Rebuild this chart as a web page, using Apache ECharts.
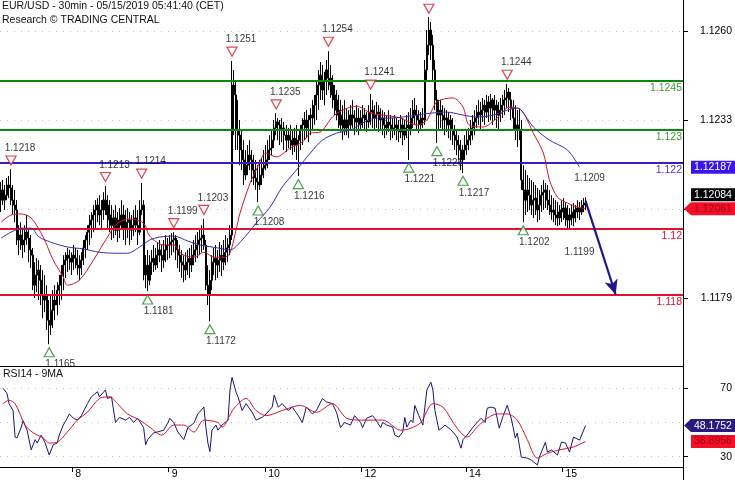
<!DOCTYPE html>
<html><head><meta charset="utf-8">
<script src="https://cdn.jsdelivr.net/npm/echarts@6/dist/echarts.min.js"></script>
<style>html,body{margin:0;padding:0;background:#fff}#c{width:735px;height:480px}</style>
</head><body><div id="c"></div>
<script>
const FONT = '"Liberation Sans", Arial, Helvetica, sans-serif';

// ---------- data ----------
const slotCount = 340;
const dayLabels = ['8','9','10','12','14','15'];
const dayStartIdx = [36,84,132,180,232,280];
const priceTicks = [1.1260,1.1233,1.1206,1.1179];
const priceLabels = [1.1260,1.1233,1.1179];
const priceGridLines = [1.1260,1.1233,1.1206];
const rsiTicks = [70,30];
const rsiGridLines = [70,50,30];
const levelValues = [1.1245,1.123,1.122,1.12,1.118];
const levelTexts = ['1.1245','1.123','1.122','1.12','1.118'];

const opens = [
1.12087,1.12118,1.12087,1.12102,1.12133,1.12124,1.12087,1.12072,1.12057,1.11966,
1.11981,1.11951,1.11966,1.11990,1.11972,1.11936,1.11920,1.11829,1.11860,1.11875,
1.11844,1.11799,1.11784,1.11799,1.11723,1.11708,1.11753,1.11784,1.11769,1.11814,
1.11829,1.11860,1.11890,1.11905,1.11920,1.11911,1.11899,1.11920,1.11911,1.11890,
1.11881,1.11905,1.11942,1.11966,1.11990,1.12011,1.12027,1.12042,1.12057,1.12072,
1.12042,1.12057,1.12087,1.12072,1.12042,1.12027,1.12011,1.12033,1.11996,1.12011,
1.12027,1.12042,1.12002,1.12020,1.12027,1.11996,1.12011,1.12033,1.12011,1.11990,
1.12057,1.12072,1.11860,1.11890,1.11844,1.11899,1.11911,1.11890,1.11920,1.11936,
1.11920,1.11905,1.11936,1.11951,1.11951,1.11960,1.11966,1.11972,1.11936,1.11920,
1.11899,1.11890,1.11875,1.11899,1.11911,1.11890,1.11920,1.11936,1.11951,1.11966,
1.11972,1.11981,1.11951,1.11829,1.11799,1.11844,1.11899,1.11911,1.11890,1.11905,
1.11920,1.11899,1.11929,1.11942,1.11951,1.11981,1.12436,1.12406,1.12300,1.12284,
1.12239,1.12209,1.12163,1.12193,1.12224,1.12209,1.12178,1.12154,1.12142,1.12133,
1.12163,1.12184,1.12193,1.12209,1.12239,1.12245,1.12269,1.12306,1.12324,1.12315,
1.12300,1.12306,1.12284,1.12269,1.12284,1.12269,1.12254,1.12275,1.12254,1.12269,
1.12300,1.12315,1.12330,1.12306,1.12330,1.12345,1.12336,1.12375,1.12406,1.12436,
1.12466,1.12421,1.12451,1.12482,1.12457,1.12436,1.12406,1.12391,1.12360,1.12345,
1.12315,1.12330,1.12306,1.12330,1.12315,1.12345,1.12336,1.12324,1.12336,1.12315,
1.12336,1.12345,1.12330,1.12324,1.12354,1.12360,1.12336,1.12345,1.12354,1.12330,
1.12336,1.12315,1.12306,1.12324,1.12315,1.12300,1.12306,1.12315,1.12300,1.12294,
1.12315,1.12284,1.12306,1.12315,1.12300,1.12336,1.12360,1.12345,1.12330,1.12315,
1.12336,1.12330,1.12482,1.12557,1.12603,1.12557,1.12482,1.12391,1.12345,1.12360,
1.12345,1.12330,1.12336,1.12315,1.12330,1.12300,1.12284,1.12269,1.12254,1.12239,
1.12209,1.12239,1.12254,1.12269,1.12284,1.12306,1.12324,1.12336,1.12354,1.12345,
1.12360,1.12375,1.12354,1.12385,1.12366,1.12391,1.12360,1.12375,1.12345,1.12360,
1.12375,1.12391,1.12397,1.12415,1.12391,1.12366,1.12336,1.12300,1.12315,1.12300,
1.12148,1.12118,1.12087,1.12118,1.12102,1.12072,1.12087,1.12093,1.12057,1.12072,
1.12102,1.12111,1.12118,1.12087,1.12072,1.12051,1.12057,1.12042,1.12033,1.12051,
1.12057,1.12063,1.12033,1.12027,1.12042,1.12033,1.12051,1.12057,1.12063,1.12051,
1.12072,1.12078];

const closes = [
1.12118,1.12087,1.12102,1.12133,1.12124,1.12087,1.12072,1.12057,1.11966,1.11981,
1.11951,1.11966,1.11990,1.11972,1.11936,1.11920,1.11829,1.11860,1.11875,1.11844,
1.11799,1.11784,1.11799,1.11723,1.11708,1.11753,1.11784,1.11769,1.11814,1.11829,
1.11860,1.11890,1.11905,1.11920,1.11911,1.11899,1.11920,1.11911,1.11890,1.11881,
1.11905,1.11942,1.11966,1.11990,1.12011,1.12027,1.12042,1.12057,1.12072,1.12042,
1.12057,1.12087,1.12072,1.12042,1.12027,1.12011,1.12033,1.11996,1.12011,1.12027,
1.12042,1.12002,1.12020,1.12027,1.11996,1.12011,1.12033,1.12011,1.11990,1.12057,
1.12072,1.11860,1.11890,1.11844,1.11899,1.11911,1.11890,1.11920,1.11936,1.11920,
1.11905,1.11936,1.11951,1.11951,1.11960,1.11966,1.11972,1.11936,1.11920,1.11899,
1.11890,1.11875,1.11899,1.11911,1.11890,1.11920,1.11936,1.11951,1.11966,1.11972,
1.11981,1.11951,1.11829,1.11799,1.11844,1.11899,1.11911,1.11890,1.11905,1.11920,
1.11899,1.11929,1.11942,1.11951,1.11981,1.12436,1.12406,1.12300,1.12284,1.12239,
1.12209,1.12163,1.12193,1.12224,1.12209,1.12178,1.12154,1.12142,1.12133,1.12163,
1.12184,1.12193,1.12209,1.12239,1.12245,1.12269,1.12306,1.12324,1.12315,1.12300,
1.12306,1.12284,1.12269,1.12284,1.12269,1.12254,1.12275,1.12254,1.12269,1.12300,
1.12315,1.12330,1.12306,1.12330,1.12345,1.12336,1.12375,1.12406,1.12436,1.12466,
1.12421,1.12451,1.12482,1.12457,1.12436,1.12406,1.12391,1.12360,1.12345,1.12315,
1.12330,1.12306,1.12330,1.12315,1.12345,1.12336,1.12324,1.12336,1.12315,1.12336,
1.12345,1.12330,1.12324,1.12354,1.12360,1.12336,1.12345,1.12354,1.12330,1.12336,
1.12315,1.12306,1.12324,1.12315,1.12300,1.12306,1.12315,1.12300,1.12294,1.12315,
1.12284,1.12306,1.12315,1.12300,1.12336,1.12360,1.12345,1.12330,1.12315,1.12336,
1.12330,1.12482,1.12557,1.12603,1.12557,1.12482,1.12391,1.12345,1.12360,1.12345,
1.12330,1.12336,1.12315,1.12330,1.12300,1.12284,1.12269,1.12254,1.12239,1.12209,
1.12239,1.12254,1.12269,1.12284,1.12306,1.12324,1.12336,1.12354,1.12345,1.12360,
1.12375,1.12354,1.12385,1.12366,1.12391,1.12360,1.12375,1.12345,1.12360,1.12375,
1.12391,1.12397,1.12415,1.12391,1.12366,1.12336,1.12300,1.12315,1.12300,1.12148,
1.12118,1.12087,1.12118,1.12102,1.12072,1.12087,1.12093,1.12057,1.12072,1.12102,
1.12111,1.12118,1.12087,1.12072,1.12051,1.12057,1.12042,1.12033,1.12051,1.12057,
1.12063,1.12033,1.12027,1.12042,1.12033,1.12051,1.12057,1.12063,1.12051,1.12072,
1.12078,1.12084];

const highs = [
1.12142,1.12148,1.12133,1.12154,1.12160,1.12181,1.12133,1.12118,1.12087,1.12011,
1.12020,1.12002,1.12011,1.12042,1.11996,1.11981,1.11942,1.11899,1.11911,1.11905,
1.11890,1.11875,1.11860,1.11829,1.11784,1.11799,1.11814,1.11829,1.11838,1.11860,
1.11890,1.11920,1.11929,1.11942,1.11936,1.11929,1.11951,1.11942,1.11936,1.11920,
1.11929,1.11966,1.11981,1.12011,1.12042,1.12051,1.12072,1.12087,1.12093,1.12102,
1.12087,1.12111,1.12130,1.12102,1.12087,1.12072,1.12057,1.12072,1.12051,1.12063,
1.12087,1.12072,1.12057,1.12063,1.12051,1.12042,1.12057,1.12072,1.12057,1.12087,
1.12139,1.12087,1.11920,1.11936,1.11920,1.11936,1.11951,1.11942,1.11960,1.11966,
1.11951,1.11966,1.11981,1.11972,1.11981,1.11987,1.11990,1.11981,1.11966,1.11951,
1.11936,1.11920,1.11929,1.11936,1.11942,1.11951,1.11966,1.11981,1.11990,1.12002,
1.12011,1.12030,1.11966,1.11890,1.11875,1.11920,1.11942,1.11951,1.11936,1.11960,
1.11951,1.11966,1.11981,1.11972,1.12011,1.12509,1.12482,1.12451,1.12391,1.12330,
1.12300,1.12269,1.12239,1.12254,1.12269,1.12239,1.12224,1.12209,1.12193,1.12209,
1.12215,1.12239,1.12254,1.12269,1.12284,1.12300,1.12330,1.12351,1.12336,1.12330,
1.12336,1.12324,1.12315,1.12306,1.12315,1.12300,1.12306,1.12315,1.12284,1.12315,
1.12336,1.12354,1.12360,1.12345,1.12366,1.12391,1.12406,1.12451,1.12482,1.12506,
1.12497,1.12476,1.12512,1.12539,1.12497,1.12466,1.12436,1.12421,1.12406,1.12391,
1.12375,1.12391,1.12366,1.12360,1.12375,1.12391,1.12360,1.12375,1.12366,1.12360,
1.12375,1.12366,1.12354,1.12375,1.12409,1.12391,1.12375,1.12385,1.12375,1.12366,
1.12360,1.12354,1.12345,1.12360,1.12345,1.12336,1.12345,1.12336,1.12330,1.12345,
1.12336,1.12330,1.12345,1.12354,1.12366,1.12391,1.12397,1.12375,1.12360,1.12354,
1.12366,1.12512,1.12603,1.12642,1.12627,1.12588,1.12512,1.12421,1.12391,1.12391,
1.12375,1.12366,1.12360,1.12354,1.12345,1.12336,1.12315,1.12300,1.12284,1.12269,
1.12254,1.12284,1.12300,1.12306,1.12330,1.12345,1.12360,1.12375,1.12391,1.12385,
1.12397,1.12391,1.12406,1.12403,1.12409,1.12397,1.12406,1.12391,1.12385,1.12397,
1.12406,1.12421,1.12439,1.12427,1.12415,1.12391,1.12375,1.12360,1.12366,1.12330,
1.12193,1.12178,1.12163,1.12154,1.12148,1.12142,1.12133,1.12124,1.12118,1.12133,
1.12148,1.12139,1.12133,1.12118,1.12102,1.12093,1.12087,1.12081,1.12072,1.12087,
1.12093,1.12081,1.12072,1.12063,1.12072,1.12078,1.12072,1.12087,1.12081,1.12087,
1.12093,1.12096];

const lows = [
1.12051,1.12072,1.12057,1.12087,1.12093,1.12072,1.12042,1.12020,1.11951,1.11920,
1.11936,1.11911,1.11929,1.11951,1.11899,1.11881,1.11814,1.11790,1.11808,1.11784,
1.11769,1.11729,1.11747,1.11693,1.11650,1.11678,1.11699,1.11723,1.11738,1.11769,
1.11784,1.11814,1.11851,1.11869,1.11875,1.11860,1.11875,1.11881,1.11860,1.11844,
1.11860,1.11890,1.11911,1.11936,1.11951,1.11972,1.11990,1.12002,1.12020,1.12011,
1.11996,1.12027,1.12042,1.12002,1.11990,1.11966,1.11972,1.11981,1.11960,1.11972,
1.11996,1.11966,1.11951,1.11972,1.11951,1.11966,1.11978,1.11990,1.11951,1.11981,
1.12042,1.11844,1.11820,1.11811,1.11829,1.11860,1.11869,1.11875,1.11881,1.11899,
1.11869,1.11881,1.11899,1.11905,1.11911,1.11920,1.11929,1.11905,1.11881,1.11869,
1.11851,1.11838,1.11844,1.11860,1.11851,1.11869,1.11890,1.11899,1.11911,1.11920,
1.11929,1.11936,1.11814,1.11769,1.11720,1.11814,1.11860,1.11844,1.11851,1.11869,
1.11857,1.11875,1.11890,1.11899,1.11920,1.11966,1.12284,1.12239,1.12239,1.12193,
1.12178,1.12133,1.12148,1.12163,1.12178,1.12142,1.12133,1.12118,1.12081,1.12118,
1.12133,1.12154,1.12178,1.12184,1.12209,1.12224,1.12245,1.12284,1.12269,1.12254,
1.12263,1.12239,1.12233,1.12245,1.12239,1.12224,1.12233,1.12209,1.12160,1.12239,
1.12254,1.12269,1.12275,1.12263,1.12284,1.12300,1.12315,1.12330,1.12360,1.12391,
1.12391,1.12375,1.12406,1.12421,1.12397,1.12366,1.12345,1.12330,1.12306,1.12294,
1.12269,1.12284,1.12284,1.12275,1.12300,1.12306,1.12284,1.12294,1.12284,1.12300,
1.12306,1.12300,1.12294,1.12306,1.12315,1.12306,1.12300,1.12306,1.12294,1.12300,
1.12284,1.12275,1.12284,1.12294,1.12269,1.12275,1.12284,1.12269,1.12263,1.12275,
1.12254,1.12269,1.12275,1.12209,1.12284,1.12306,1.12315,1.12300,1.12290,1.12300,
1.12306,1.12315,1.12451,1.12527,1.12512,1.12451,1.12360,1.12260,1.12300,1.12306,
1.12300,1.12284,1.12294,1.12275,1.12269,1.12254,1.12239,1.12224,1.12209,1.12178,
1.12169,1.12209,1.12224,1.12239,1.12254,1.12269,1.12284,1.12306,1.12315,1.12300,
1.12324,1.12315,1.12336,1.12324,1.12330,1.12315,1.12330,1.12306,1.12300,1.12324,
1.12336,1.12345,1.12366,1.12354,1.12330,1.12300,1.12269,1.12248,1.12269,1.12118,
1.12020,1.12042,1.12051,1.12057,1.12042,1.12033,1.12042,1.12020,1.12027,1.12051,
1.12057,1.12063,1.12057,1.12042,1.12027,1.12020,1.12011,1.12008,1.12011,1.12020,
1.12027,1.12008,1.12002,1.12002,1.12011,1.12008,1.12020,1.12033,1.12027,1.12042,
1.12051,1.12057];

const fastMA = [[0,1.12020],[5,1.12042],[10,1.12045],[15,1.12033],[21,1.11975],[26,1.11905],[31,1.11854],[33,1.11829],[39,1.11844],[46,1.11905],[53,1.11975],[58,1.12017],[64,1.12030],[71,1.12017],[74,1.11978],[81,1.11951],[86,1.11951],[90,1.11923],[96,1.11914],[101,1.11929],[106,1.11914],[111,1.11914],[114,1.11926],[119,1.12048],[124,1.12139],[127,1.12178],[132,1.12230],[137,1.12218],[144,1.12245],[150,1.12263],[154,1.12290],[159,1.12294],[165,1.12339],[170,1.12360],[177,1.12372],[184,1.12351],[190,1.12345],[199,1.12336],[207,1.12315],[212,1.12330],[217,1.12385],[225,1.12397],[230,1.12369],[233,1.12315],[240,1.12309],[247,1.12336],[253,1.12369],[259,1.12360],[265,1.12290],[270,1.12230],[273,1.12148],[277,1.12096],[282,1.12078],[287,1.12066],[291,1.12061]];

const slowMA = [[0,1.11972],[5,1.11990],[10,1.12002],[15,1.12002],[19,1.11975],[26,1.11957],[33,1.11945],[41,1.11939],[49,1.11929],[58,1.11926],[63,1.11926],[69,1.11945],[74,1.11966],[79,1.11975],[86,1.11978],[93,1.11963],[99,1.11951],[108,1.11942],[114,1.11936],[120,1.11966],[127,1.12017],[134,1.12066],[140,1.12127],[147,1.12178],[154,1.12230],[160,1.12269],[167,1.12290],[174,1.12300],[180,1.12321],[187,1.12336],[194,1.12336],[200,1.12339],[207,1.12345],[214,1.12351],[222,1.12354],[230,1.12345],[237,1.12339],[245,1.12345],[252,1.12360],[257,1.12366],[259,1.12360],[265,1.12309],[273,1.12269],[282,1.12239],[288,1.12187]];

const highMarkIdx = [5,52,70,86,101,115,137,163,184,213,252];
const highMarkVal = [1.1218,1.1213,1.1214,1.1199,1.1203,1.1251,1.1235,1.1254,1.1241,1.1264,1.1244];
const highMarkText = ['1.1218','1.1213','1.1214','1.1199','1.1203','1.1251','1.1235','1.1254','1.1241','','1.1244'];
const lowMarkIdx = [24,73,104,128,148,203,217,230,260];
const lowMarkVal = [1.1165,1.1181,1.1172,1.1208,1.1216,1.1221,1.1226,1.1217,1.1202];
const lowMarkText = ['1.1165','1.1181','1.1172','1.1208','1.1216','1.1221','1.1226','1.1217','1.1202'];
const projIdx = [293,288];
const projVal = [1.1209,1.1199];
const projText = ['1.1209','1.1199'];
const arrowFrom = [291,1.12084];
const arrowTo = [306,1.118];

const rsi = [[1,70],[3,67],[4,61],[6,57],[7,41.5],[8,41],[10,47],[11,51],[13,45.5],[15,34],[17,40],[18,38],[20,42.6],[22,38],[24,31],[26,37],[28,38],[29,42.6],[31,48.5],[33,52.5],[34,55],[36,52.5],[38,51.4],[40,54],[43,61],[45,65],[48,68],[49,65],[52,69],[53,64],[55,65],[57,50],[59,53],[62,51.4],[64,53],[66,50],[68,52.5],[71,47],[72,37],[73,40],[76,44],[78,44.5],[81,45.5],[83,49.6],[84,52.5],[86,50],[88,44.5],[91,40],[93,47],[96,49.6],[98,55],[101,59],[102,47],[103,38],[104,33],[105,45.5],[107,48.5],[108,45.5],[110,48.5],[113,51.4],[114,69],[115,76.4],[117,67.7],[118,65],[120,57],[122,61],[125,56],[127,51.4],[130,53],[132,55],[135,59],[136,66],[138,59],[140,61],[143,57],[145,59],[148,54],[150,50],[152,59],[155,55],[157,57],[160,64],[162,62],[165,61],[167,56],[169,47],[171,50],[174,48.5],[176,54],[179,50],[180,47],[182,52.5],[185,54],[186,52.5],[189,47],[190,50],[192,48.5],[195,47.3],[196,42.6],[198,41.5],[200,44.4],[201,53],[202,47.3],[204,51.4],[205,50],[206,60],[208,54],[210,48.5],[211,59],[212,69],[214,73.5],[215,69],[216,57],[218,45.5],[220,47.3],[221,48.5],[223,46.7],[225,44.4],[227,41.5],[229,35],[230,40],[232,42.6],[235,47.3],[237,50],[239,52.5],[241,50],[242,58.3],[244,59],[246,58.3],[248,46.7],[250,54],[252,60],[254,52.5],[256,41],[257,43.8],[259,29.8],[262,29.2],[264,28],[267,25.2],[268,29.8],[271,38.5],[272,32.7],[274,34],[277,31],[279,38.5],[281,38],[283,32.7],[285,41.5],[288,39.7],[291,48.1752]];

const rsiMA = [[1,61],[4,63],[7,61],[12,48.5],[16,44],[21,41],[24,38],[28,38.5],[33,44.4],[38,51.4],[43,56],[49,64],[54,65],[58,61],[63,55],[69,51.4],[74,47.3],[80,42.6],[86,48.5],[91,48.5],[96,44.4],[101,51.4],[108,50],[110,47.3],[116,58.3],[122,64],[127,57],[132,54],[140,57],[149,60],[157,56],[165,61],[172,52.5],[179,51.4],[190,51.4],[199,45.5],[204,46.7],[209,50],[215,61],[220,59],[227,46.7],[232,41.5],[237,47.3],[242,52.5],[247,55],[252,55],[257,51.4],[262,40],[267,29.2],[272,32],[278,34],[285,35.7],[291,38.8956]];

const tagSlowMA = 1.12187, tagLast = 1.12084, tagFastMA = 1.12061;
const tagRsi = 48.1752, tagRsiMA = 38.8956;

// ---------- styles ----------
const levelColors = ['#0a8a0a','#0a8a0a','#3a1cc4','#e4102c','#e4102c'];
const levelTextColors = ['#3c9a3c','#3c9a3c','#4a2cd0','#e4102c','#e4102c'];
const RED = '#d4142c', NAVY = '#1c1474', GREEN = '#1e8a1e';

const cats = Array.from({length: slotCount}, (_, i) => String(i));
const isDay = (idx) => dayStartIdx.indexOf(idx) >= 0;
const candles = opens.map((o, i) => [o, closes[i], lows[i], highs[i]]);

const chart = echarts.init(document.getElementById('c'), null, {renderer: 'canvas'});
const txt = {fontFamily: FONT, color: '#111'};

const option = {
  animation: false,
  backgroundColor: '#fff',
  title: [
    {text: 'EUR/USD - 30min - 05/15/2019 05:41:40 (CET)', subtext: 'Research © TRADING CENTRAL',
     left: 2, top: 1, padding: 0, itemGap: 3,
     textStyle: Object.assign({fontSize: 10.5, fontWeight: 'normal'}, txt),
     subtextStyle: Object.assign({fontSize: 10.5}, txt)},
    {text: 'RSI14 - 9MA', left: 3, top: 369, padding: 0,
     textStyle: Object.assign({fontSize: 10.5, fontWeight: 'normal'}, txt)}
  ],
  grid: [
    {left: 0, top: 0, width: 683, height: 366, outerBoundsMode: 'none'},
    {left: 0, top: 366, width: 683, height: 101, outerBoundsMode: 'none'}
  ],
  xAxis: [
    {type: 'category', gridIndex: 0, data: cats, boundaryGap: true,
     axisLine: {lineStyle: {color: '#000', width: 1}}, axisTick: {show: false},
     axisLabel: {show: false}, splitLine: {show: false}},
    {type: 'category', gridIndex: 1, data: cats, boundaryGap: true,
     axisLine: {lineStyle: {color: '#000', width: 1}},
     axisTick: {show: true, interval: isDay, length: 5, lineStyle: {color: '#000'}},
     axisLabel: {interval: isDay, formatter: (v, i) => dayLabels[dayStartIdx.indexOf(i)],
       align: 'left', padding: [0, 0, 0, 2], margin: 2, fontSize: 10.5, color: '#000', fontFamily: FONT},
     splitLine: {show: false}}
  ],
  yAxis: [
    {type: 'value', gridIndex: 0, position: 'right', min: 1.11584, max: 1.12694,
     axisLine: {show: true, lineStyle: {color: '#000'}},
     axisTick: {show: true, length: 5, customValues: priceTicks, lineStyle: {color: '#000'}},
     axisLabel: {customValues: priceLabels, formatter: v => v.toFixed(4), margin: 49, align: 'right',
       fontSize: 10.5, color: '#000', fontFamily: FONT},
     splitLine: {show: false}},
    {type: 'value', gridIndex: 1, position: 'right', min: 24, max: 83,
     axisLine: {show: true, lineStyle: {color: '#000'}},
     axisTick: {show: true, length: 5, customValues: rsiTicks, lineStyle: {color: '#000'}},
     axisLabel: {customValues: rsiTicks, margin: 49, align: 'right',
       fontSize: 10.5, color: '#000', fontFamily: FONT},
     splitLine: {show: false}}
  ],
  series: [
    {type: 'candlestick', xAxisIndex: 0, yAxisIndex: 0, data: candles, z: 2,
     barWidth: 1.6,
     itemStyle: {color: '#000', color0: '#000', borderColor: '#000', borderColor0: '#000', borderWidth: 1},
     markLine: {silent: true, z: 1, precision: 5, symbol: 'none', label: {show: false},
       lineStyle: {color: '#bdbdbd', type: [1, 6], width: 1},
       data: priceGridLines.map(v => ({yAxis: v}))}},
    {type: 'line', name: 'fastMA', xAxisIndex: 0, yAxisIndex: 0, data: fastMA, z: 3,
     smooth: 0.3, showSymbol: false, lineStyle: {color: RED, width: 1}},
    {type: 'line', name: 'slowMA', xAxisIndex: 0, yAxisIndex: 0, data: slowMA, z: 3,
     smooth: 0.3, showSymbol: false, lineStyle: {color: '#3a2cb4', width: 1},
     markLine: {silent: true, z: 3, precision: 5, symbol: 'none',
       data: levelValues.map((v, k) => ({yAxis: v,
         lineStyle: {color: levelColors[k], width: 2, type: 'solid'},
         label: {show: true, position: 'insideEndBottom', distance: [1, 2], formatter: levelTexts[k],
           color: levelTextColors[k], fontSize: 10.5, fontFamily: FONT}})).concat([[
         {coord: arrowFrom, symbol: 'none', lineStyle: {color: '#20168c', width: 2.2, type: 'solid'}, label: {show: false}},
         {coord: arrowTo, symbol: 'arrow', symbolSize: [10, 15]}
       ]])}},
    {type: 'scatter', xAxisIndex: 0, yAxisIndex: 0, z: 3,
     symbol: 'path://M0,0 L10,0 L5,9 Z', symbolSize: [10, 9], symbolOffset: [0, -9],
     itemStyle: {color: '#fff', borderColor: RED, borderWidth: 1.2},
     label: {show: true, position: 'top', distance: 2, offset: [9, 0], formatter: p => highMarkText[p.dataIndex],
       color: '#000', fontSize: 10, fontFamily: FONT},
     data: highMarkIdx.map((x, k) => [x, highMarkVal[k]])},
    {type: 'scatter', xAxisIndex: 0, yAxisIndex: 0, z: 3,
     symbol: 'triangle', symbolSize: [10, 9], symbolOffset: [0, 8],
     itemStyle: {color: '#fff', borderColor: GREEN, borderWidth: 1.2},
     label: {show: true, position: 'bottom', distance: 2, offset: [11, 0], formatter: p => lowMarkText[p.dataIndex],
       color: '#000', fontSize: 10, fontFamily: FONT},
     data: lowMarkIdx.map((x, k) => [x, lowMarkVal[k]])},
    {type: 'scatter', xAxisIndex: 0, yAxisIndex: 0, z: 3, symbolSize: 1,
     itemStyle: {color: 'rgba(0,0,0,0)'},
     data: [
       {value: [projIdx[0], projVal[0]], label: {show: true, position: 'top', distance: 15, formatter: projText[0], color: '#000', fontSize: 10, fontFamily: FONT}},
       {value: [projIdx[1], projVal[1]], label: {show: true, position: 'bottom', distance: 15, formatter: projText[1], color: '#000', fontSize: 10, fontFamily: FONT}}
     ]},
    {type: 'line', xAxisIndex: 1, yAxisIndex: 1, data: rsi, z: 6, showSymbol: false,
     lineStyle: {color: NAVY, width: 1},
     markLine: {silent: true, z: 5, precision: 2, symbol: 'none', label: {show: false},
       lineStyle: {color: '#bdbdbd', type: [1, 6], width: 1},
       data: rsiGridLines.map(v => ({yAxis: v}))}},
    {type: 'line', xAxisIndex: 1, yAxisIndex: 1, data: rsiMA, z: 6, showSymbol: false, smooth: 0.3,
     lineStyle: {color: RED, width: 1}}
  ]
};
chart.setOption(option);

// ---------- value tags on the right axis ----------
const py = v => chart.convertToPixel({yAxisIndex: 0}, v);
const ry = v => chart.convertToPixel({yAxisIndex: 1}, v);
function tag(id, y, text, fill, color, arrow) {
  const h = 13, x0 = 691, x1 = 735, xt = 693;
  const pts = arrow
    ? [[684, y], [x0, y - h / 2], [x1, y - h / 2], [x1, y + h / 2], [x0, y + h / 2]]
    : [[x0, y - h / 2], [x1, y - h / 2], [x1, y + h / 2], [x0, y + h / 2]];
  return [
    {id: id + 'b', type: 'polygon', z: 10, shape: {points: pts}, style: {fill: fill}},
    {id: id + 't', type: 'text', z: 11, x: xt + 1, y: y, style: {text: text, fill: color,
      font: '10.5px ' + FONT, verticalAlign: 'middle', align: 'left'}}
  ];
}
const yRed = py(tagFastMA);
const yLast = Math.min(py(tagLast), yRed - 14);
const els = [
  {id: 'cover', type: 'rect', z: 4, shape: {x: 0, y: 367, width: 682, height: 99}, style: {fill: '#fff'}},
  {id: 'ext', type: 'line', z: 4, shape: {x1: 683.5, y1: 466, x2: 683.5, y2: 480}, style: {stroke: '#000', lineWidth: 1}}
].concat(
  tag('ts', py(tagSlowMA), tagSlowMA.toFixed(5), '#3c14f0', '#fff', false),
  tag('tl', yLast, tagLast.toFixed(5), '#000', '#fff', false),
  tag('tf', yRed, tagFastMA.toFixed(5), '#f2102a', '#a8000c', true),
  tag('rs', ry(tagRsi), tagRsi.toFixed(4), '#2a1a80', '#fff', true),
  tag('rm', ry(tagRsiMA), tagRsiMA.toFixed(4), '#f2102a', '#a8000c', false)
);
chart.setOption({graphic: {elements: els}});
</script>
</body></html>
